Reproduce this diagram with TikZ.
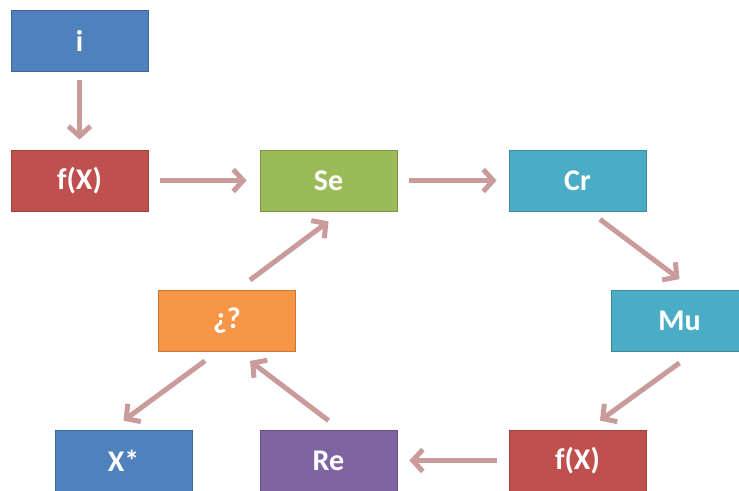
\documentclass[tikz,border=0pt]{standalone}
\usepackage{fontspec}
\setmainfont{Carlito}
\usetikzlibrary{arrows.meta}
\definecolor{cblue}{RGB}{79,129,189}
\definecolor{cred}{RGB}{192,80,77}
\definecolor{cgreen}{RGB}{155,187,89}
\definecolor{cteal}{RGB}{75,172,198}
\definecolor{corange}{RGB}{247,150,70}
\definecolor{cpurple}{RGB}{128,100,162}
\definecolor{carrow}{RGB}{202,155,155}
\tikzset{
  box/.style={draw=#1!80!black, line width=0.8pt, fill=#1, minimum width=137pt, minimum height=61pt,
    inner sep=0pt, text=white, font=\fontsize{30}{36}\selectfont\bfseries},
  conn/.style={draw=carrow, line width=5pt, -{Straight Barb[length=10pt,width=22pt,line width=5pt]}}
}
\begin{document}
\begin{tikzpicture}[x=1pt,y=-1pt]
\useasboundingbox (0,0) rectangle (739,490);
\node[box=cblue] (i) at (79.5,40.5) {i};
\node[box=cred] (fx1) at (79.5,180.5) {f(X)};
\node[box=cgreen] (se) at (328.5,180.5) {Se};
\node[box=cteal] (cr) at (577.5,180.5) {Cr};
\node[box=cteal] (mu) at (679.5,321) {Mu};
\node[box=corange] (q) at (227,321) {¿?};
\node[box=cblue] (xs) at (123.5,460.5) {X*};
\node[box=cpurple] (re) at (328.5,460.5) {Re};
\node[box=cred] (fx2) at (577.5,460.5) {f(X)};

\draw[conn] ([yshift=-9pt]i.south) -- ([yshift=10pt]fx1.north);
\draw[conn] ([xshift=12pt]fx1.east) -- ([xshift=-13pt]se.west);
\draw[conn] ([xshift=12pt]se.east) -- ([xshift=-12pt]cr.west);
\draw[conn] ([xshift=22.5pt,yshift=-8pt]cr.south) -- ([yshift=11pt]mu.north);
\draw[conn] ([yshift=-11pt]mu.south) -- ([xshift=22.5pt,yshift=9pt]fx2.north);
\draw[conn] ([xshift=-12pt]fx2.west) -- ([xshift=12pt]re.east);
\draw[conn] ([yshift=9pt]re.north) -- ([xshift=23pt,yshift=-9pt]q.south);
\draw[conn] ([xshift=-22pt,yshift=-9pt]q.south) -- ([yshift=9pt]xs.north);
\draw[conn] ([xshift=23pt,yshift=10pt]q.north) -- ([yshift=-10pt]se.south);
\end{tikzpicture}
\end{document}
